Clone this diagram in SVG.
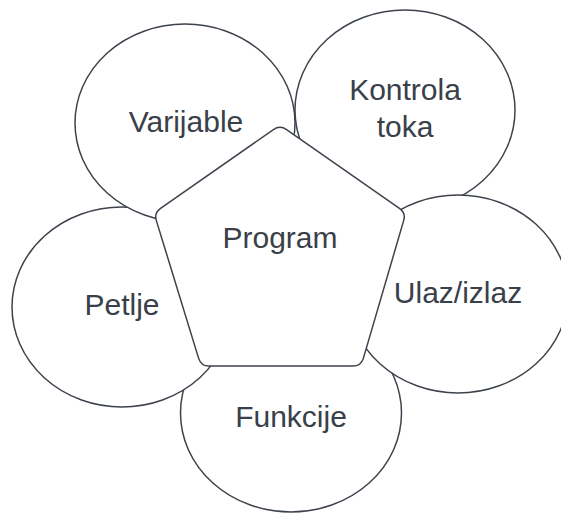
<svg xmlns="http://www.w3.org/2000/svg" width="561" height="513" viewBox="0 0 561 513">
<style>
.shape{fill:#ffffff;stroke:#3d434c;stroke-width:1.5}
.lbl{font-family:"Liberation Sans",Arial,sans-serif;font-size:30px;fill:#394049;text-anchor:middle}
</style>
<rect width="561" height="513" fill="#ffffff"/>
<g id="funkcije">
<ellipse class="shape" cx="291" cy="413" rx="110.5" ry="99"/>
<text class="lbl" x="291" y="427">Funkcije</text>
</g>
<g id="petlje">
<ellipse class="shape" cx="122" cy="307" rx="110" ry="100"/>
<text class="lbl" x="122" y="315">Petlje</text>
</g>
<g id="varijable">
<ellipse class="shape" cx="185" cy="123" rx="110" ry="99"/>
<text class="lbl" x="186" y="132">Varijable</text>
</g>
<g id="kontrola-toka">
<ellipse class="shape" cx="405" cy="110" rx="110" ry="100"/>
<text class="lbl" x="405" y="100">Kontrola</text>
<text class="lbl" x="405" y="137">toka</text>
</g>
<g id="ulaz-izlaz">
<ellipse class="shape" cx="458" cy="294" rx="110" ry="99"/>
<text class="lbl" x="458" y="303">Ulaz/izlaz</text>
</g>
<g id="program">
<path class="shape" d="M286.56,129.58 L399.44,208.42 Q406,213 403.65,220.65 L363.35,358.35 Q361,366 353,366 L209,366 Q201,366 198.65,358.35 L156.35,220.65 Q154,213 160.56,208.42 L273.44,129.58 Q280,125 286.56,129.58 Z"/>
<text class="lbl" x="280" y="248">Program</text>
</g>
<g id="connectors"/>
</svg>
